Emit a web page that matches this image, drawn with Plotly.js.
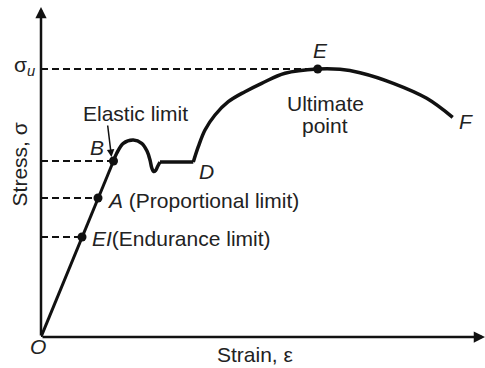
<!DOCTYPE html>
<html>
<head>
<meta charset="utf-8">
<script src="https://cdn.plot.ly/plotly-3.0.1.min.js"></script>
<style>
  body { margin: 0; background: #fff; }
  #chart { width: 485px; height: 368px; }
</style>
</head>
<body>
<div id="chart"></div>
<script>
// strain / stress in arbitrary units
const elasticStrain = [0, 72.5];
const elasticStress = [0, 176];

const yieldStrain = [72.5, 75.7, 82.3, 92.3, 100.7, 106, 109, 110.8, 112.6, 114.6, 116.6, 119];
const yieldStress = [176, 183.7, 193.7, 197, 193.7, 186, 177, 169, 165.5, 166.5, 170.5, 175];

const plateauStrain = [119, 152.3];
const plateauStress = [175, 175];

const hardeningStrain = [152.3, 157.3, 164, 174, 187.3, 204, 220.7, 244, 276.7, 299, 319, 352.3, 385.7, 411.7];
const hardeningStress = [175, 190.3, 207, 222, 235.3, 245.3, 253.7, 263.7, 268, 267.7, 264.3, 253.7, 238.7, 219.7];

// EI, A, B, E
const pointNames = ['EI', 'A', 'B', 'E'];
const pointStrain = [41, 57, 72.5, 276.7];
const pointStress = [100, 139, 176, 268];

const xMax = 444;
const yMax = 330;

const ink = '#111';
const font = { family: 'Liberation Sans, Arial, sans-serif', size: 21, color: '#222' };

function lineTrace(x, y, width, shape) {
    return {
        x: x, y: y,
        mode: 'lines',
        type: 'scatter',
        hoverinfo: 'skip',
        line: { color: ink, width: width, shape: shape || 'linear', smoothing: 1 }
    };
}

const traces = [];

// dashed guide lines from the stress axis to each point
pointStress.forEach((s, i) => {
    traces.push({
        x: [0, pointStrain[i]],
        y: [s, s],
        mode: 'lines',
        type: 'scatter',
        hoverinfo: 'skip',
        line: { color: ink, width: 1.8, dash: '7px,4px' }
    });
});

traces.push(lineTrace(elasticStrain, elasticStress, 3));
traces.push(lineTrace(yieldStrain, yieldStress, 3.5, 'spline'));
traces.push(lineTrace(plateauStrain, plateauStress, 3.5));
traces.push(lineTrace(hardeningStrain, hardeningStress, 3.5, 'spline'));

traces.push({
    x: pointStrain,
    y: pointStress,
    text: pointNames,
    mode: 'markers',
    type: 'scatter',
    hoverinfo: 'text',
    marker: { color: ink, size: 9 }
});

function label(text, x, y, extra) {
    return Object.assign({
        text: text, x: x, y: y, xref: 'x', yref: 'y',
        xanchor: 'center', yanchor: 'middle',
        showarrow: false, font: font
    }, extra || {});
}

// labels that sit outside the plotting area use paper coordinates
function outside(text, x, y, extra) {
    return label(text, x, y, Object.assign({ xref: 'paper', yref: 'paper' }, extra || {}));
}

const annotations = [
    // axes with arrow heads
    { x: xMax, y: 0, ax: 0, ay: 0, axref: 'x', ayref: 'y', xref: 'x', yref: 'y', text: '',
      showarrow: true, arrowhead: 2, arrowsize: 0.9, arrowwidth: 2.5, arrowcolor: ink, standoff: 0 },
    { x: 0, y: yMax, ax: 0, ay: 0, axref: 'x', ayref: 'y', xref: 'x', yref: 'y', text: '',
      showarrow: true, arrowhead: 2, arrowsize: 0.9, arrowwidth: 2.5, arrowcolor: ink, standoff: 0 },
    // elastic limit pointer
    { x: 70.5, y: 180, ax: -4, ay: -33, xref: 'x', yref: 'y', text: '',
      showarrow: true, arrowhead: 2, arrowsize: 1, arrowwidth: 1.5, arrowcolor: ink, standoff: 0 },

    outside('σ<sub><i>u</i></sub>', -0.008, 0.82, { xanchor: 'right' }),
    outside('Stress, σ', -0.048, 0.522, { textangle: -90 }),
    outside('Strain, ε', 0.482, -0.052),
    outside('<i>O</i>', -0.007, -0.03),
    label('<i>EI</i>(Endurance limit)', 49, 99, { xanchor: 'left' }),
    label('<i>A</i> (Proportional limit)', 64, 137, { xanchor: 'left' }),
    label('<i>B</i>', 56, 190),
    label('Elastic limit', 40, 224, { xanchor: 'left' }),
    label('<i>D</i>', 165, 166),
    label('<i>E</i>', 279, 287),
    label('Ultimate', 284, 234),
    label('point', 284, 212),
    label('<i>F</i>', 425, 216)
];

const layout = {
    width: 485,
    height: 368,
    margin: { l: 41, r: 0, t: 7, b: 31, pad: 0 },
    paper_bgcolor: '#fff',
    plot_bgcolor: '#fff',
    showlegend: false,
    xaxis: { range: [0, xMax], visible: false, fixedrange: true },
    yaxis: { range: [0, yMax], visible: false, fixedrange: true },
    annotations: annotations
};

Plotly.newPlot('chart', traces, layout, { displayModeBar: false, staticPlot: true });
</script>
</body>
</html>
